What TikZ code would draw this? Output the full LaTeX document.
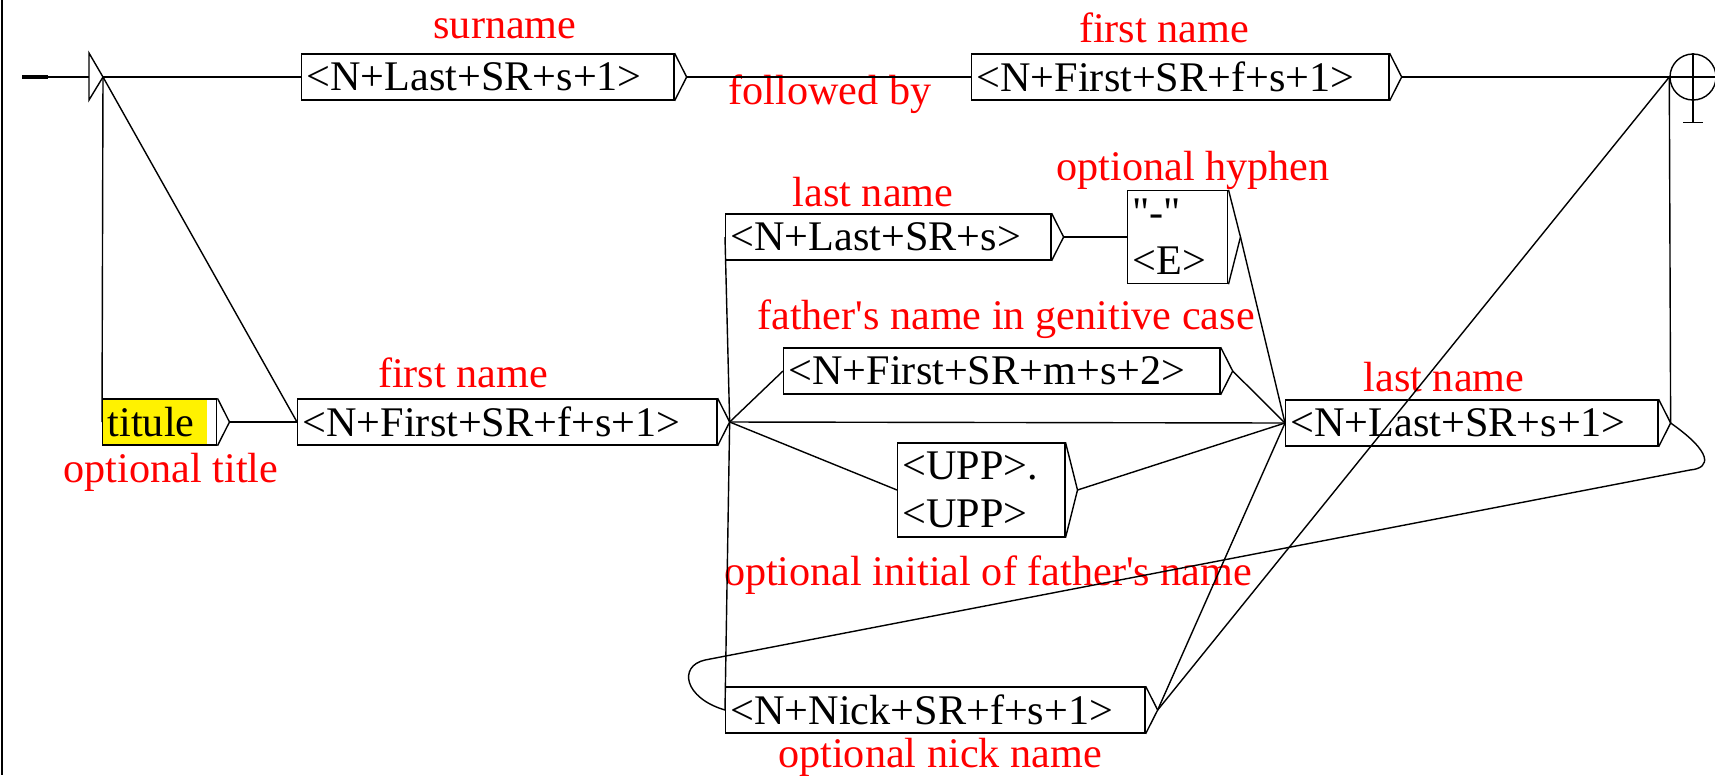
\documentclass[tikz,border=0pt]{standalone}
\usepackage{fontspec}
\setmainfont{Liberation Serif}
\usetikzlibrary{calc}
\tikzset{grf/.style={draw, anchor=west, minimum height=0.46cm, inner xsep=0.05cm, inner ysep=0pt, align=left, text width=#1, font=\fontsize{12}{13.6}\selectfont}}
\tikzset{cmt/.style={text=red, font=\fontsize{12}{13.6}\selectfont}}
\newcommand{\gtip}[1]{\draw (#1.north east) -- ([xshift=0.12cm]#1.east) coordinate (#1t) -- (#1.south east);}

\begin{document}
\begin{tikzpicture}[x=0.01cm, y=-0.01cm, line width=0.4pt]
    \useasboundingbox (0,0) rectangle (1715,775);
    \draw[line width=0.6pt] (2,0) -- (2,775);

    % initial and final states
    \coordinate (init) at (103,77);
    \draw[line width=1.3pt] (22,77) -- (48,77);
    \draw (48,77) -- (89,77);
    \draw (init) -- ++(-14,-24) -- ++(0,47) -- cycle;
    \node[draw, circle, minimum size=0.46cm, inner sep=0pt] at (1693,77) (final) {};
    \draw (final.west) -- (final.east);
    \draw (final.north) -- ++(0,69) coordinate (fstem);
    \draw ([xshift=-0.1cm]fstem) -- ([xshift=0.1cm]fstem);

    \node[grf=3.62cm] at (301,77) (surname) {<N+Last+SR+s+1>};
    \node[grf=4.07cm] at (971,77) (firstT) {<N+First+SR+f+s+1>};
    \node[grf=1.04cm, path picture={\fill[yellow] (path picture bounding box.south west) rectangle ([xshift=-0.1cm]path picture bounding box.north east);}] at (102,422) (titule) {titule};
    \node[grf=4.09cm] at (297,422) (first) {<N+First+SR+f+s+1>};
    \node[grf=3.15cm] at (725,237) (lastn) {<N+Last+SR+s>};
    \node[grf=0.90cm, minimum height=0.93cm] at (1127,237) (hyph) {\textquotedbl-\textquotedbl\\<E>};
    \node[grf=4.26cm] at (783,371) (father) {<N+First+SR+m+s+2>};
    \node[grf=1.57cm, minimum height=0.94cm] at (897,490) (upp) {<UPP>.\\<UPP>};
    \node[grf=3.62cm] at (1285,423) (last) {<N+Last+SR+s+1>};
    \node[grf=4.09cm] at (725,710) (nick) {<N+Nick+SR+f+s+1>};

    \gtip{surname} \gtip{firstT} \gtip{titule} \gtip{first} \gtip{lastn}
    \gtip{hyph} \gtip{father} \gtip{upp} \gtip{last} \gtip{nick}

    % red comments
    \node[cmt] at (505,29) (c-surname) {surname};
    \node[cmt] at (1164,28) (c-firstT) {first name};
    \node[cmt] at (830,94) (c-follow) {followed by};
    \node[cmt] at (171,472) (c-title) {optional title};
    \node[cmt] at (463,373) (c-first) {first name};
    \node[cmt] at (873,192) (c-lastn) {last name};
    \node[cmt] at (1193,170) (c-hyph) {optional hyphen};
    \node[cmt] at (1006,319) (c-father) {father\textquotesingle s name in genitive case};
    \node[cmt] at (1444,377) (c-last) {last name};
    \node[cmt] at (988,575) (c-upp) {optional initial of father\textquotesingle s name};
    \node[cmt] at (940,757) (c-nick) {optional nick name};

    \draw (init) edge (surname.west) edge (titule.west) edge (first.west);
    \draw (surnamet) edge (firstT.west);
    \draw (firstTt) edge (final.west);
    \draw (titulet) edge (first.west);
    \draw (firstt) edge (lastn.west) edge (father.west) edge (last.west) edge (upp.west) edge (nick.west);
    \draw (lastnt) edge (hyph.west);
    \draw (hypht) edge (last.west);
    \draw (fathert) edge (last.west);
    \draw (uppt) edge (last.west);
    \draw (nickt) edge (last.west) edge (final.west);
    \draw (lastt) edge (final.west);
    \draw (lastt) .. controls (1712,452) and (1712,468) .. (1690,470) -- (705,660) .. controls (678,666) and (684,698) .. (nick.west);
\end{tikzpicture}
\end{document}
